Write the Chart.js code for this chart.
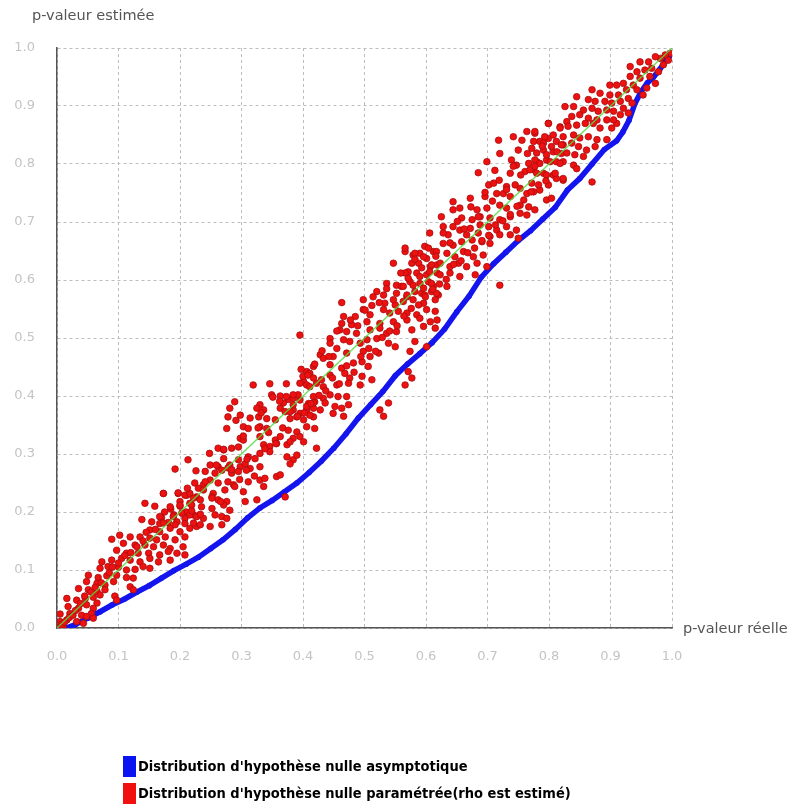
<!DOCTYPE html>
<html>
<head>
<meta charset="utf-8">
<script src="https://cdn.jsdelivr.net/npm/chart.js@4.4.1/dist/chart.umd.min.js"></script>
<style>
  html, body { margin: 0; padding: 0; background: #ffffff; }
  canvas { display: block; }
</style>
</head>
<body>
<canvas id="pvalChart" width="796" height="807"></canvas>
<script>
// axes (ticks 0.0 .. 1.0)
const tickValues = [0, 0.1, 0.2, 0.3, 0.4, 0.5, 0.6, 0.7, 0.8, 0.9, 1.0];
const xTitle = 'p-valeur réelle';
const yTitle = 'p-valeur estimée';
const legendLabels = [
    "Distribution d'hypothèse nulle asymptotique",
    "Distribution d'hypothèse nulle paramétrée(rho est estimé)"
];

// reference diagonal
const diagX = [0, 1];
const diagY = [0, 1];

// asymptotic null distribution (blue curve)
const blueX = [0.015, 0.03, 0.05, 0.07, 0.09, 0.11, 0.13, 0.15, 0.17, 0.19, 0.21, 0.23, 0.25, 0.27, 0.29,
    0.31, 0.33, 0.35, 0.37, 0.39, 0.41, 0.43, 0.45, 0.47, 0.49, 0.51, 0.53, 0.55, 0.57, 0.59,
    0.61, 0.63, 0.65, 0.67, 0.69, 0.71, 0.73, 0.75, 0.77, 0.79, 0.81, 0.83, 0.85, 0.87, 0.89,
    0.91, 0.92, 0.93, 0.94, 0.95, 0.96, 0.97, 0.98, 0.99, 1.0];
const blueY = [0.0, 0.006, 0.017, 0.028, 0.04, 0.05, 0.062, 0.073, 0.086, 0.099, 0.11, 0.122, 0.137, 0.152, 0.17,
    0.19, 0.207, 0.22, 0.235, 0.25, 0.268, 0.288, 0.31, 0.335, 0.362, 0.385, 0.408, 0.435, 0.455, 0.473,
    0.492, 0.515, 0.545, 0.572, 0.605, 0.628, 0.648, 0.668, 0.685, 0.705, 0.725, 0.755, 0.775, 0.8, 0.825,
    0.84, 0.855, 0.875, 0.905, 0.925, 0.94, 0.95, 0.963, 0.978, 0.99];

// parametric null distribution (red points), [réelle, estimée]
const red1 = [[.173,.232],[.197,.232],[.211,.229],[.227,.226],[.143,.215],[.159,.210],[.200,.218],[.216,.215],[.138,.187],[.154,.183],
    [.167,.180],[.181,.182],[.195,.183],[.208,.189],[.222,.195],[.151,.169],[.167,.166],[.184,.172],[.200,.166],[.216,.172],
    [.227,.175],[.102,.160],[.089,.153],[.119,.157],[.135,.157],[.151,.155],[.162,.152],[.176,.157],[.192,.152],[.208,.157],
    [.108,.146],[.127,.143],[.143,.143],[.157,.140],[.173,.143],[.184,.137],[.205,.140],[.097,.134],[.113,.129],[.132,.129],
    [.149,.129],[.167,.126],[.181,.132],[.195,.129],[.208,.126],[.073,.114],[.089,.117],[.105,.120],[.119,.117],[.135,.114],
    [.151,.120],[.165,.114],[.184,.117],[.070,.103],[.083,.106],[.100,.105],[.113,.100],[.127,.101],[.140,.106],[.151,.103],
    [.051,.091],[.067,.087],[.081,.090],[.097,.091],[.113,.087],[.124,.086],[.048,.080],[.065,.077],[.078,.074],[.092,.080],
    [.119,.071],[.035,.068],[.051,.066],[.065,.063],[.078,.066],[.094,.055],[.124,.066],[.016,.051],[.032,.048],[.046,.051],
    [.059,.053],[.070,.057],[.065,.043],[.097,.048],[.018,.037],[.035,.034],[.048,.040],[.059,.034],[.056,.025],[.005,.024],
    [.021,.025],[.040,.022],[.048,.020],[.059,.017],[.005,.011],[.016,.014],[.032,.011],[.043,.008],[.000,.005],[.010,.002],
    [.002,.000],[.008,.006],[.012,.010],[.020,.018],[.026,.022],[.030,.030],[.038,.042],[.045,.055],[.055,.062],[.062,.070],
    [.072,.078],[.085,.095],[.090,.105],[.100,.112],[.110,.125],[.120,.130],[.130,.140],[.140,.150],[.145,.165],[.160,.170],
    [.170,.190],[.175,.200],[.185,.205],[.190,.195],[.200,.210],[.210,.200]];
const red2 = [[.406,.442],[.411,.439],[.401,.425],[.406,.419],[.422,.422],[.319,.419],[.346,.421],[.349,.402],[.363,.400],[.376,.394],
    [.384,.396],[.395,.393],[.409,.387],[.419,.390],[.289,.390],[.330,.385],[.281,.379],[.325,.379],[.336,.376],[.363,.379],
    [.371,.373],[.384,.376],[.406,.376],[.417,.379],[.298,.367],[.278,.364],[.328,.364],[.341,.361],[.355,.359],[.379,.361],
    [.390,.364],[.401,.359],[.417,.364],[.303,.347],[.276,.344],[.311,.344],[.330,.347],[.341,.344],[.376,.341],[.390,.338],
    [.406,.347],[.419,.344],[.298,.327],[.303,.324],[.330,.330],[.355,.324],[.363,.330],[.384,.327],[.395,.330],[.401,.321],
    [.262,.310],[.271,.307],[.284,.310],[.295,.312],[.336,.316],[.346,.313],[.357,.318],[.374,.316],[.422,.310],[.213,.290],
    [.271,.292],[.295,.290],[.311,.295],[.322,.292],[.330,.301],[.346,.304],[.374,.295],[.384,.290],[.390,.298],[.249,.281],
    [.262,.278],[.281,.281],[.298,.278],[.306,.283],[.314,.275],[.330,.278],[.379,.283],[.192,.274],[.241,.270],[.257,.267],
    [.268,.272],[.284,.267],[.295,.270],[.308,.272],[.357,.261],[.363,.264],[.224,.250],[.238,.247],[.249,.255],[.262,.250],
    [.278,.252],[.287,.247],[.311,.252],[.330,.255],[.338,.258],[.336,.244],[.173,.232],[.197,.233],[.208,.229],[.216,.232],
    [.230,.241],[.238,.238],[.254,.232],[.273,.238],[.289,.244],[.303,.235],[.222,.224],[.233,.221],[.252,.226],[.262,.221],
    [.276,.218],[.306,.218],[.325,.221],[.371,.226],[.184,.209],[.200,.212],[.219,.212],[.235,.209],[.252,.206],[.271,.212],
    [.281,.203],[.167,.192],[.189,.192],[.203,.198],[.216,.195],[.227,.192],[.238,.189],[.257,.195],[.268,.192],[.276,.189],
    [.173,.181],[.192,.178],[.208,.180],[.222,.181],[.233,.178],[.249,.175],[.268,.178]];
const red3 = [[.566,.649],[.579,.643],[.590,.646],[.601,.637],[.612,.649],[.547,.629],[.588,.629],[.607,.623],[.618,.626],[.571,.614],
    [.585,.612],[.601,.609],[.618,.612],[.536,.594],[.552,.591],[.560,.589],[.574,.597],[.590,.594],[.604,.597],[.612,.589],
    [.520,.580],[.531,.574],[.514,.571],[.552,.577],[.569,.571],[.582,.580],[.593,.577],[.609,.580],[.620,.574],[.498,.566],
    [.463,.561],[.533,.560],[.550,.557],[.563,.563],[.579,.566],[.596,.560],[.615,.566],[.498,.549],[.485,.537],[.466,.537],
    [.509,.540],[.531,.549],[.541,.543],[.555,.546],[.569,.543],[.585,.540],[.601,.549],[.615,.546],[.463,.525],[.479,.523],
    [.504,.528],[.525,.525],[.547,.528],[.569,.531],[.590,.534],[.607,.528],[.618,.531],[.395,.505],[.444,.499],[.460,.514],
    [.471,.511],[.487,.508],[.509,.514],[.525,.517],[.536,.508],[.552,.511],[.577,.514],[.596,.520],[.615,.517],[.444,.491],
    [.455,.482],[.476,.494],[.493,.491],[.504,.497],[.520,.499],[.539,.491],[.550,.485],[.582,.494],[.601,.485],[.428,.471],
    [.433,.465],[.449,.468],[.471,.474],[.498,.477],[.509,.468],[.523,.474],[.574,.477],[.417,.451],[.444,.454],[.463,.448],
    [.482,.457],[.496,.459],[.506,.451],[.468,.439],[.400,.434],[.417,.431],[.430,.428],[.444,.436],[.476,.431],[.496,.434],
    [.512,.428],[.571,.442],[.395,.422],[.411,.416],[.433,.416],[.455,.419],[.474,.422],[.493,.419],[.566,.419],[.577,.431],
    [.373,.399],[.392,.402],[.417,.399],[.433,.396],[.444,.402],[.457,.399],[.471,.399],[.368,.388],[.384,.385],[.406,.382],
    [.417,.388],[.436,.388],[.452,.382],[.463,.379],[.474,.385],[.539,.388],[.379,.373],[.395,.370],[.411,.367],[.428,.376],
    [.449,.370],[.466,.365],[.525,.376],[.531,.365]];
const red4 = [[.799,.870],[.818,.864],[.829,.873],[.764,.856],[.777,.853],[.742,.847],[.718,.841],[.756,.841],[.785,.839],[.799,.844],
    [.812,.839],[.823,.833],[.720,.818],[.750,.824],[.772,.827],[.791,.824],[.807,.821],[.820,.818],[.699,.804],[.739,.807],
    [.747,.798],[.767,.801],[.780,.804],[.796,.807],[.812,.804],[.823,.804],[.685,.785],[.712,.789],[.737,.784],[.761,.787],
    [.775,.790],[.791,.784],[.807,.781],[.823,.772],[.702,.764],[.710,.767],[.731,.761],[.745,.764],[.753,.758],[.772,.767],
    [.785,.755],[.799,.764],[.812,.775],[.672,.741],[.696,.744],[.715,.749],[.726,.749],[.737,.744],[.764,.749],[.775,.752],
    [.796,.738],[.804,.741],[.644,.735],[.655,.724],[.644,.721],[.683,.721],[.699,.724],[.720,.729],[.731,.724],[.753,.729],
    [.767,.726],[.777,.721],[.625,.709],[.658,.707],[.675,.704],[.688,.709],[.704,.707],[.720,.704],[.737,.709],[.753,.715],
    [.764,.712],[.628,.692],[.644,.692],[.655,.686],[.672,.689],[.688,.695],[.702,.692],[.715,.686],[.731,.692],[.747,.686],
    [.606,.681],[.636,.678],[.666,.678],[.685,.681],[.704,.675],[.720,.678],[.737,.678],[.750,.672],[.566,.655],[.598,.658],
    [.628,.663],[.644,.660],[.658,.666],[.675,.669],[.691,.666],[.704,.663],[.582,.646],[.596,.640],[.617,.649],[.634,.646],
    [.647,.640],[.661,.649],[.677,.640],[.693,.643],[.577,.629],[.609,.626],[.623,.629],[.639,.623],[.653,.629],[.666,.623],
    [.683,.629],[.699,.623],[.566,.612],[.590,.606],[.606,.614],[.623,.609],[.639,.612],[.655,.606],[.680,.609],[.720,.591],
    [.563,.589],[.579,.591],[.596,.586],[.609,.594],[.617,.577],[.634,.589],[.569,.574],[.598,.574]];
const red5 = [[.997,.991],[.989,.988],[.981,.982],[.973,.985],[.962,.976],[.948,.976],[.986,.971],[.994,.979],[.932,.968],[.943,.959],
    [.956,.962],[.967,.965],[.978,.959],[.932,.951],[.948,.948],[.964,.951],[.973,.939],[.937,.936],[.899,.936],[.910,.936],
    [.921,.939],[.926,.928],[.943,.928],[.959,.931],[.953,.919],[.870,.928],[.883,.922],[.899,.919],[.913,.919],[.916,.908],
    [.929,.913],[.935,.905],[.845,.916],[.864,.911],[.875,.908],[.891,.908],[.902,.905],[.921,.896],[.905,.891],[.826,.899],
    [.840,.899],[.856,.893],[.870,.896],[.880,.891],[.894,.893],[.916,.885],[.929,.888],[.837,.882],[.850,.885],[.864,.879],
    [.878,.876],[.894,.876],[.910,.870],[.905,.876],[.799,.870],[.818,.862],[.831,.865],[.845,.867],[.859,.870],[.872,.870],
    [.883,.862],[.902,.862],[.777,.856],[.793,.847],[.807,.850],[.823,.847],[.840,.850],[.850,.845],[.864,.847],[.878,.842],
    [.894,.842],[.775,.839],[.791,.836],[.804,.830],[.820,.833],[.837,.836],[.848,.830],[.861,.824],[.875,.830],[.780,.819],
    [.796,.816],[.813,.821],[.829,.819],[.842,.816],[.856,.813],[.777,.807],[.785,.801],[.802,.804],[.818,.801],[.840,.798],
    [.769,.790],[.780,.784],[.796,.781],[.810,.784],[.823,.775],[.845,.792],[.870,.769]];
// denser core of the cloud near the diagonal
const red6 = [[.212,.241],[.219,.202],[.226,.271],[.233,.196],[.241,.252],[.248,.301],[.252,.224],[.259,.281],[.266,.218],[.271,.308],
    [.278,.276],[.284,.273],[.291,.358],[.297,.256],[.303,.331],[.309,.291],[.314,.362],[.321,.262],[.327,.345],[.332,.371],
    [.338,.309],[.344,.337],[.351,.398],[.356,.318],[.362,.391],[.367,.345],[.373,.421],[.379,.321],[.384,.402],[.391,.365],
    [.397,.446],[.402,.371],[.408,.436],[.413,.387],[.419,.455],[.426,.401],[.431,.478],[.437,.409],[.442,.468],[.448,.431],
    [.455,.512],[.459,.421],[.466,.497],[.471,.452],[.477,.531],[.483,.441],[.489,.521],[.494,.468],[.501,.548],[.507,.482],
    [.512,.556],[.518,.477],[.524,.561],[.529,.501],[.536,.585],[.541,.512],[.547,.566],[.553,.521],[.559,.612],[.564,.538],
    [.571,.603],[.576,.551],[.582,.636],[.588,.557],[.593,.621],[.599,.571],[.604,.655],[.611,.584],[.616,.641],[.622,.593],
    [.628,.681],[.633,.601],[.639,.664],[.645,.627],[.651,.701],[.657,.633],[.662,.688],[.668,.647],[.673,.726],[.679,.655],
    [.685,.709],[.691,.668],[.696,.751],[.702,.677],[.708,.736],[.713,.695],[.719,.772],[.725,.702],[.731,.756],[.737,.713],
    [.742,.796],[.748,.727],[.754,.781],[.759,.738],[.765,.818],[.771,.752],[.777,.796],[.783,.764],[.789,.831],[.795,.771]];

const toXY = (xs, ys) => xs.map((x, i) => ({ x: x, y: ys[i] }));
const redPoints = red1.concat(red2, red3, red4, red5, red6).map(p => ({ x: p[0], y: p[1] }));

let canvas = document.querySelector('#pvalChart');

// axis titles + legend drawn around the plot
const extraText = {
    id: 'extraText',
    afterDraw(chart) {
        const ctx = chart.ctx;
        const area = chart.chartArea;
        ctx.save();
        ctx.fillStyle = '#555555';
        ctx.textBaseline = 'middle';
        ctx.textAlign = 'left';
        ctx.font = '14.5px "DejaVu Sans"';
        ctx.fillText(yTitle, 32, 16);
        ctx.fillText(xTitle, area.right + 11, area.bottom + 1);

        const colors = ['#0a14f0', '#f01010'];
        ctx.font = 'bold 14.5px "DejaVu Sans Condensed", "Liberation Sans Narrow", sans-serif';
        legendLabels.forEach((label, i) => {
            const y = 756 + i * 27;
            ctx.fillStyle = colors[i];
            ctx.fillRect(123, y, 13, 21);
            ctx.fillStyle = '#000000';
            ctx.fillText(label, 138, y + 11);
        });
        ctx.restore();
    }
};

const config = {
    type: 'scatter',
    data: {
        datasets: [
            {
                label: 'diagonale',
                data: toXY(diagX, diagY),
                showLine: true,
                borderColor: 'rgba(80, 220, 60, 0.85)',
                borderWidth: 1.3,
                pointRadius: 0
            },
            {
                label: legendLabels[1],
                data: redPoints,
                backgroundColor: '#ee1111',
                borderColor: '#a80c0c',
                borderWidth: 0.8,
                pointRadius: 3.3
            },
            {
                label: legendLabels[0],
                data: toXY(blueX, blueY),
                showLine: true,
                borderColor: '#1414ee',
                backgroundColor: '#1414ee',
                borderWidth: 5.5,
                pointRadius: 2.8,
                pointBorderWidth: 0,
                tension: 0
            }
        ]
    },
    options: {
        responsive: false,
        animation: false,
        devicePixelRatio: 1,
        layout: { padding: { top: 48, right: 124, bottom: 139, left: 0 } },
        plugins: {
            legend: { display: false },
            tooltip: { enabled: false }
        },
        scales: {
            x: {
                type: 'linear',
                min: 0,
                max: 1,
                afterBuildTicks: s => { s.ticks = tickValues.map(v => ({ value: v })); },
                afterFit: s => { s.height = 40; },
                ticks: {
                    color: '#c4c4c4',
                    padding: 21,
                    font: { family: 'DejaVu Sans', size: 13 },
                    callback: v => v.toFixed(1)
                },
                grid: { color: '#bdbdbd', drawTicks: false },
                border: { display: true, color: '#555555', width: 1.5, dash: [3, 3] }
            },
            y: {
                type: 'linear',
                min: 0,
                max: 1,
                afterBuildTicks: s => { s.ticks = tickValues.map(v => ({ value: v })); },
                afterFit: s => { s.width = 57; },
                ticks: {
                    color: '#c4c4c4',
                    padding: 22,
                    font: { family: 'DejaVu Sans', size: 13 },
                    callback: v => v.toFixed(1)
                },
                grid: { color: '#bdbdbd', drawTicks: false },
                border: { display: true, color: '#555555', width: 1.5, dash: [3, 3] }
            }
        }
    },
    plugins: [extraText]
};

if (canvas) {
    const chart = new Chart(canvas, config);
} else {
    console.error('Canvas not found');
}
</script>
</body>
</html>
